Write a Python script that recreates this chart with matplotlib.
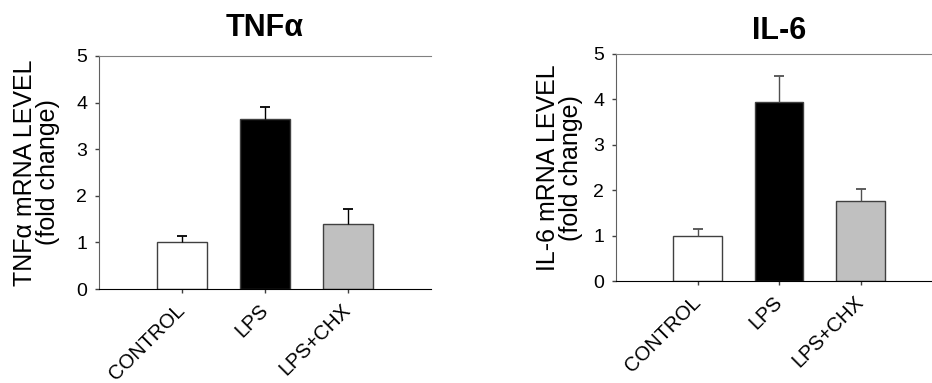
import matplotlib.pyplot as plt
import numpy as np

plt.rcParams['font.family'] = ['Liberation Sans', 'DejaVu Sans']

groups = ['CONTROL', 'LPS', 'LPS+CHX']
tnf_mean = [1.00, 3.65, 1.40]
tnf_err = [0.14, 0.26, 0.32]
il6_mean = [1.00, 3.95, 1.76]
il6_err = [0.14, 0.56, 0.26]
bar_colors = ['white', 'black', '#c0c0c0']


def draw_panel(ax, means, errs, title, ylabel, label_x, errcolor, title_pad):
    x = np.arange(len(groups))
    ax.bar(x, means, width=0.6, color=bar_colors, edgecolor='#404040',
           linewidth=1, zorder=2)
    # only the upper half of the error bar is shown
    _, caps, _ = ax.errorbar(x, means, yerr=[np.zeros(len(errs)), errs],
                             fmt='none', ecolor=errcolor, elinewidth=1,
                             capsize=3.5, capthick=1.3, zorder=3)
    caps[0].set_visible(False)
    ax.set_xlim(-1, 3)
    ax.set_ylim(0, 5)
    ax.set_yticks([0, 1, 2, 3, 4, 5])
    ax.set_xticks(x)
    ax.set_xticklabels(groups, rotation=45, ha='right', va='center',
                       rotation_mode='anchor', fontsize=14.5)
    ax.tick_params(axis='y', direction='out', length=3, width=1,
                   labelsize=14, pad=5.5, color='#404040')
    ax.tick_params(axis='x', direction='out', length=3, width=1,
                   pad=10, color='#404040')
    ax.spines['right'].set_visible(False)
    ax.spines['top'].set_color('#808080')
    ax.spines['left'].set_color('#606060')
    ax.spines['bottom'].set_color('black')
    ax.set_title(title, fontsize=22, fontweight='bold', pad=title_pad)
    ax.set_ylabel(ylabel, fontsize=18, linespacing=0.95)
    ax.yaxis.set_label_coords(label_x, 0.5)


fig = plt.figure(figsize=(9.32, 3.83), dpi=100)
ax1 = fig.add_axes([99 / 932, 94 / 383, 332 / 932, 233 / 383])
ax2 = fig.add_axes([616 / 932, 101.7 / 383, 326 / 932, 227.3 / 383])

draw_panel(ax1, tnf_mean, tnf_err, 'TNFα', 'TNFα mRNA LEVEL\n(fold change)',
           -0.117, 'black', 14.4)
draw_panel(ax2, il6_mean, il6_err, 'IL-6', 'IL-6 mRNA LEVEL\n(fold change)',
           -0.10, '#505050', 10.6)

fig.savefig('out.png', dpi=100)
